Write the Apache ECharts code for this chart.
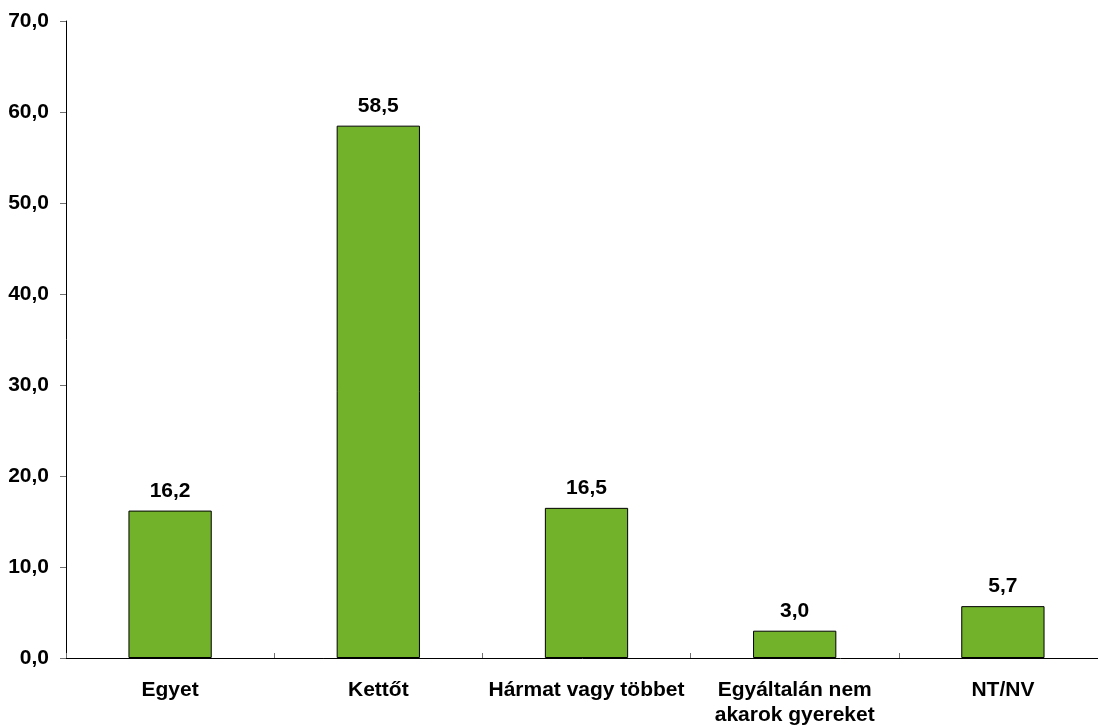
<!DOCTYPE html>
<html>
<head>
<meta charset="utf-8">
<script src="https://cdn.jsdelivr.net/npm/echarts@6/dist/echarts.min.js"></script>
<style>
html,body{margin:0;padding:0;background:#fff;}
#chart{width:1098px;height:728px;}
</style>
</head>
<body>
<div id="chart"></div>
<script>
const categories = ['Egyet', 'Kettőt', 'Hármat vagy többet', 'Egyáltalán nem\nakarok gyereket', 'NT/NV'];
const values = [16.2, 58.5, 16.5, 3.0, 5.7];
const yTicks = { min: 0, max: 70, interval: 10 };

const fmt = v => Number(v).toFixed(1).replace('.', ',');
const font = { fontFamily: '"Liberation Sans", Arial, sans-serif', fontWeight: 'bold', fontSize: 21, color: '#000' };

const chart = echarts.init(document.getElementById('chart'));
chart.setOption({
  animation: false,
  grid: { left: 66, top: 21, width: 1041, bottom: 70, containLabel: false, outerBoundsMode: 'none' },
  xAxis: {
    type: 'category',
    data: categories,
    axisLine: { lineStyle: { color: '#000', width: 1 } },
    axisTick: { show: true, inside: true, length: 5, interval: 0, lineStyle: { color: '#707070', width: 1 } },
    axisLabel: Object.assign({ margin: 20, lineHeight: 25, interval: 0 }, font),
    splitLine: { show: false }
  },
  yAxis: {
    type: 'value',
    min: yTicks.min, max: yTicks.max, interval: yTicks.interval,
    axisLine: { show: true, lineStyle: { color: '#000', width: 1 } },
    axisTick: { show: true, length: 6, lineStyle: { color: '#707070' } },
    axisLabel: Object.assign({ margin: 17, formatter: fmt }, font),
    splitLine: { show: false }
  },
  series: [{
    type: 'bar',
    data: values,
    barWidth: '40%',
    itemStyle: { color: '#71B22A', borderColor: '#000', borderWidth: 1 },
    label: Object.assign({ show: true, position: 'top', distance: 9, formatter: p => fmt(p.value) }, font)
  }]
});
</script>
</body>
</html>
